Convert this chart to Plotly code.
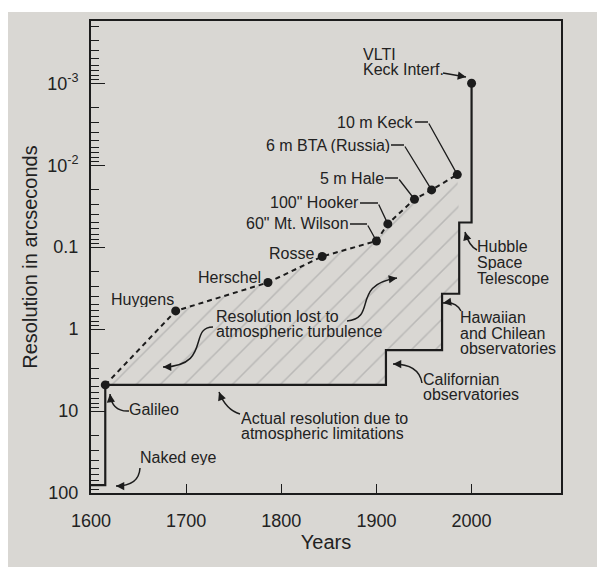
import numpy as np
import plotly.graph_objects as go

# telescopes along the dashed "theoretical resolution" line
tele_names = ["Galileo", "Huygens", "Herschel", "Rosse", '60" Mt. Wilson', '100" Hooker',
              "5 m Hale", "6 m BTA (Russia)", "10 m Keck"]
tele_years = [1615, 1689, 1786, 1843, 1900, 1912, 1940, 1958, 1985]
tele_res = [4.8, 0.60, 0.27, 0.13, 0.084, 0.052, 0.026, 0.020, 0.013]

# actual resolution, drawn as a step line (naked eye -> ... -> VLTI)
step_years = [1600, 1615, 1910, 1969, 1987, 2000]
step_res = [80, 4.8, 1.8, 0.37, 0.05, 0.001]

vlti_years = [2000]
vlti_res = [0.001]

x_tickvals = [1600, 1700, 1800, 1900, 2000]
y_tickvals = [1e-3, 1e-2, 0.1, 1, 10, 100]
y_ticktext = ["10<sup>-3</sup>", "10<sup>-2</sup>", "0.1", "1", "10", "100"]

X_RANGE = [1600, 2094]
Y_RANGE = [2, -3.76]  # log10, reversed: 100 at the bottom

INK = "#1c1c1c"
BG = "#d9d7d3"
FONT = dict(family="Liberation Sans, Arial, sans-serif", size=16, color="#222222")

# plot area in window pixels (the page body adds an 8 px offset)
OFF = 8
W, H = 605 - OFF, 567 - OFF
L, T, R, B = 91, 21, 561, 493


def px(x, y):
    return (x - L) / (R - L), (B - y) / (B - T)


def data_px(year, res):
    xp = L + (year - X_RANGE[0]) / (X_RANGE[1] - X_RANGE[0]) * (R - L)
    yp = B - (Y_RANGE[0] - np.log10(res)) / (Y_RANGE[0] - Y_RANGE[1]) * (B - T)
    return xp, yp


# corner points of the step line
hv_x, hv_y = [step_years[0]], [step_res[0]]
for x, y in zip(step_years[1:], step_res[1:]):
    hv_x += [x, x]
    hv_y += [hv_y[-1], y]

# area between the dashed line and the step line
poly_x = tele_years + hv_x[2:-2][::-1]
poly_y = tele_res + hv_y[2:-2][::-1]

fig = go.Figure()
fig.add_trace(go.Scatter(
    x=poly_x, y=poly_y, mode="lines", fill="toself", line=dict(width=0),
    fillcolor="rgba(0,0,0,0)",
    fillpattern=dict(shape="/", fgcolor="#9c9c9c", bgcolor="rgba(0,0,0,0)", size=17, solidity=0.09),
    hoverinfo="skip",
))
fig.add_trace(go.Scatter(
    x=step_years, y=step_res, mode="lines", line=dict(color=INK, width=2.2, shape="hv"),
))
fig.add_trace(go.Scatter(
    x=tele_years, y=tele_res, mode="lines+markers",
    line=dict(color=INK, width=2, dash="5px,4px"),
    marker=dict(color=INK, size=9),
))
fig.add_trace(go.Scatter(
    x=vlti_years, y=vlti_res, mode="markers", marker=dict(color=INK, size=9),
))


def text(lines, x, y, anchor="left", step=15.5):
    for i, line in enumerate(lines):
        xp, yp = px(x, y + i * step)
        fig.add_annotation(x=xp, y=yp, xref="paper", yref="paper", text=line, showarrow=False,
                           xanchor=anchor, yanchor="middle", height=15, borderpad=0, font=FONT)


def arrow(*pts):
    # curved arrow through window-pixel control points, head at the last one
    cmd = {2: "L", 3: "Q", 4: "C"}[len(pts)]
    p = [px(*q) for q in pts]
    path = f"M {p[0][0]},{p[0][1]} {cmd} " + " ".join(f"{a},{b}" for a, b in p[1:])
    fig.add_shape(type="path", xref="paper", yref="paper", path=path, line=dict(color=INK, width=1.5))
    (x0, y0), (x1, y1) = pts[-2], pts[-1]
    n = np.hypot(x0 - x1, y0 - y1)
    hx, hy = p[-1]
    fig.add_annotation(x=hx, y=hy, xref="paper", yref="paper", ax=(x0 - x1) / n * 9, ay=(y0 - y1) / n * 9,
                       text="", showarrow=True, arrowhead=2, arrowsize=1.1, arrowwidth=1.5, arrowcolor=INK)


def leader(i, text_end, elbow):
    x, y = tele_years[i], np.log10(tele_res[i])
    dx, dy = data_px(tele_years[i], tele_res[i])
    fig.add_annotation(x=x, y=y, ax=elbow[0] - dx, ay=elbow[1] - dy, text="", showarrow=True,
                       arrowhead=0, arrowwidth=1.3, arrowcolor=INK)
    fig.add_annotation(x=x, y=y, xshift=elbow[0] - dx, yshift=dy - elbow[1],
                       ax=text_end[0] - elbow[0], ay=0, text=tele_names[i], xanchor="right",
                       yanchor="middle", showarrow=True, arrowhead=0, arrowwidth=1.3,
                       arrowcolor=INK, height=15, borderpad=0, font=FONT)


text(["VLTI", "Keck Interf."], 362, 54)
arrow((443, 73), (466, 77))
leader(8, (415, 122), (428, 122))
leader(7, (391, 145), (404, 145))
leader(6, (385, 178), (398, 178))
leader(5, (360, 203), (378, 203))
leader(4, (350, 224), (367, 224))
text([tele_names[3]], 315, 253, anchor="right")
text([tele_names[2]], 262, 277, anchor="right")
text([tele_names[1]], 110, 299)
text(["Resolution lost to", "atmospheric turbulence"], 215, 316)
arrow((213, 327), (188, 327), (212, 366), (163, 367))
arrow((347, 321), (378, 318), (350, 285), (397, 278))
text([tele_names[0]], 128, 409)
arrow((129, 411), (112, 412), (110, 394))
text(["Actual resolution due to", "atmospheric limitations"], 240, 418)
arrow((240, 414), (226, 410), (219, 392))
text(["Naked eye"], 139, 457)
arrow((140, 468), (139, 486), (116, 486))
text(["Californian", "observatories"], 422, 379, step=15)
arrow((422, 383), (419, 364), (393, 364))
text(["Hawaiian", "and Chilean", "observatories"], 459, 317, step=16)
arrow((461, 311), (456, 301), (443, 303))
text(["Hubble", "Space", "Telescope"], 476, 247, step=15.5)
arrow((477, 250), (469, 246), (465, 232))

# white top border of the photo (the page body supplies the first 8 px)
fig.add_shape(type="rect", xref="paper", yref="paper", layer="below", line_width=0, fillcolor="white",
              x0=px(-5, 0)[0], x1=px(610, 0)[0], y0=px(0, 12)[1], y1=px(0, -5)[1])

fig.update_layout(
    width=W, height=H,
    margin=dict(l=L - OFF, r=605 - R, t=T - OFF, b=567 - B),
    paper_bgcolor=BG, plot_bgcolor=BG,
    showlegend=False,
    font=dict(family="Liberation Sans, Arial, sans-serif", color="#222222"),
)
fig.update_xaxes(
    range=X_RANGE, tickvals=x_tickvals, ticks="inside", ticklen=9, tickwidth=1.3, tickcolor=INK,
    showline=True, linecolor=INK, linewidth=2, mirror=True, showgrid=False, zeroline=False,
    tickfont=dict(size=18), ticklabelstandoff=10,
    title=dict(text="Years", font=dict(size=20), standoff=2),
)
fig.update_yaxes(
    type="log", range=Y_RANGE, tickmode="array", tickvals=y_tickvals, ticktext=y_ticktext,
    ticks="inside", ticklen=14, tickwidth=1.3, tickcolor=INK,
    minor=dict(ticks="inside", ticklen=8, tickwidth=1, tickcolor=INK, dtick="D1", showgrid=False),
    showline=True, linecolor=INK, linewidth=2, mirror=True, showgrid=False, zeroline=False,
    tickfont=dict(size=18), ticklabelstandoff=7,
    title=dict(text="Resolution in arcseconds", font=dict(size=20), standoff=4),
)

fig.write_html("out.html")
